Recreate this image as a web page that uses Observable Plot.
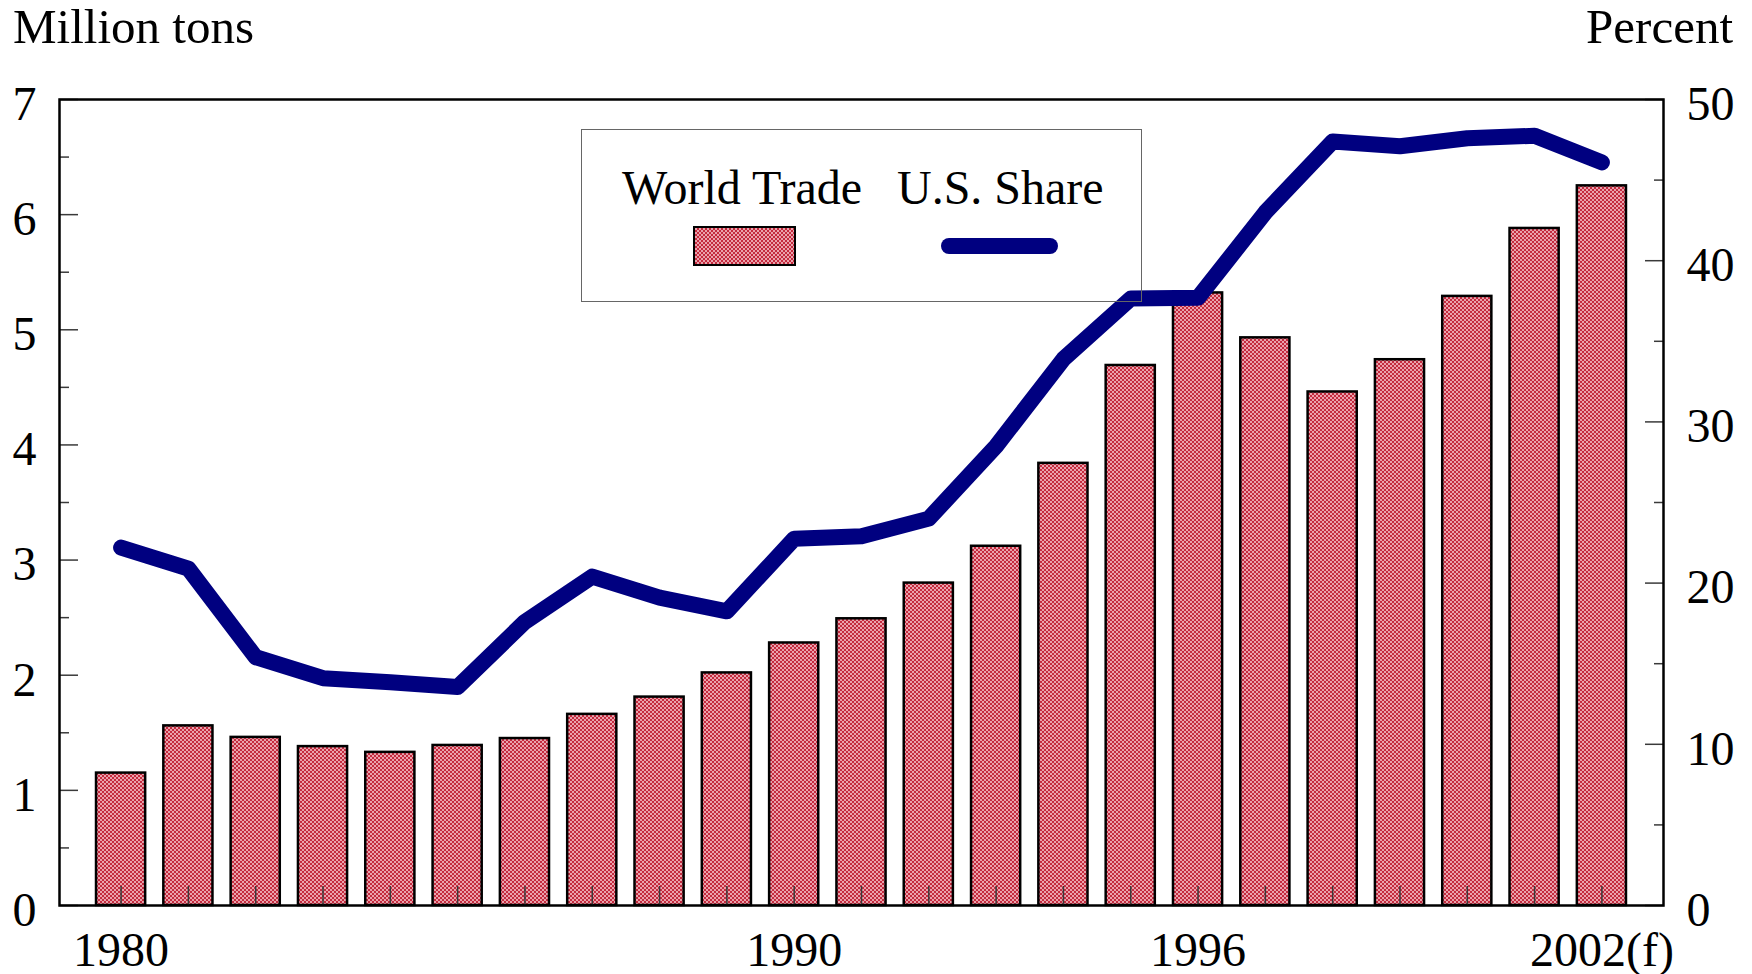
<!DOCTYPE html>
<html>
<head>
<meta charset="utf-8">
<script src="https://cdn.jsdelivr.net/npm/d3@7"></script>
<script src="https://cdn.jsdelivr.net/npm/@observablehq/plot@0.6"></script>
<style>
  body { margin: 0; background: #fff; font-family: "Liberation Serif", "Times New Roman", serif; }
  #wrap { position: relative; width: 1752px; height: 974px; background: #fff; }
  #header { position: relative; height: 55px; }
  .unit { position: absolute; top: 3px; font-size: 49px; line-height: 48px; color: #000; white-space: nowrap; }
  #legend { position: absolute; left: 581px; top: 129px; width: 561px; height: 173px; border: 1px solid #666; box-sizing: border-box; }
  .ltext { position: absolute; top: 34px; font-size: 48px; line-height: 48px; white-space: nowrap; }
  #swatchBar { position: absolute; left: 111px; top: 96px; width: 103px; height: 40px; box-sizing: border-box; border: 2.5px solid #000;
    background: repeating-conic-gradient(#c42a3e 0 25%, #eaa2ac 0 50%) 0 0 / 4px 4px; }
  #swatchLine { position: absolute; left: 359px; top: 108px; width: 117px; height: 16px; border-radius: 8px; background: #000080; }
</style>
</head>
<body>
<div id="wrap">
  <div id="header">
    <span class="unit" style="left:13px;">Million tons</span>
    <span class="unit" style="right:19px;">Percent</span>
  </div>
  <div id="chart"></div>
  <div id="legend">
    <span class="ltext" style="left:40px;">World Trade</span>
    <span class="ltext" style="left:315px;">U.S. Share</span>
    <div id="swatchBar"></div>
    <div id="swatchLine"></div>
  </div>
</div>
<script>
// ---- Data ----
const years = [1980, 1981, 1982, 1983, 1984, 1985, 1986, 1987, 1988, 1989, 1990, 1991,
               1992, 1993, 1994, 1995, 1996, 1997, 1998, 1999, 2000, 2001, 2002];
// World trade, million tons
const worldTrade = [1.15, 1.56, 1.46, 1.38, 1.33, 1.39, 1.45, 1.66, 1.81, 2.02, 2.28, 2.49,
                    2.80, 3.12, 3.84, 4.69, 5.32, 4.93, 4.46, 4.74, 5.29, 5.88, 6.25];
// U.S. share, percent
const usShare = [22.2, 20.9, 15.4, 14.1, 13.85, 13.55, 17.6, 20.4, 19.1, 18.25, 22.75, 22.9,
                 24.0, 28.5, 33.9, 37.65, 37.7, 43.0, 47.4, 47.1, 47.6, 47.75, 46.1];

const labeledYears = [1980, 1990, 1996, 2002];
const labeledYearText = ["1980", "1990", "1996", "2002(f)"];
const tonsMajor = [0, 1, 2, 3, 4, 5, 6, 7];
const tonsMinor = [0.5, 1.5, 2.5, 3.5, 4.5, 5.5, 6.5];
const pctMajor = [0, 10, 20, 30, 40, 50];
const pctMinor = [5, 15, 25, 35, 45];
const TONS_MAX = 7;
const PCT_MAX = 50;

// ---- Build ----
const k = TONS_MAX / PCT_MAX;
const toLeft = p => p * k;
const data = years.map((year, i) => ({year, trade: worldTrade[i], share: usShare[i]}));
const yearLabel = d => { const i = labeledYears.indexOf(d); return i >= 0 ? labeledYearText[i] : ""; };
const tickStroke = "#3a3a3a";

const chart = Plot.plot({
  width: 1752,
  height: 919,
  marginLeft: 59,
  marginRight: 89,
  marginTop: 44,
  marginBottom: 69,
  style: {fontFamily: "Liberation Serif, Times New Roman, serif", fontSize: "48px", color: "#000", background: "#fff", overflow: "visible"},
  x: {type: "band", domain: years, paddingInner: 0.27, paddingOuter: 0.55, round: false},
  y: {domain: [0, TONS_MAX]},
  marks: [
    Plot.barY(data, {x: "year", y: "trade", fill: "url(#checker)", stroke: "#000", strokeWidth: 2.5}),
    // bottom ticks (inward)
    Plot.axisX({anchor: "bottom", tickSize: -19, stroke: tickStroke, strokeWidth: 1.5, fill: "none", label: null}),
    Plot.axisX({anchor: "bottom", ticks: labeledYears, tickSize: 0, tickPadding: 26, tickFormat: yearLabel, label: null}),
    // left axis
    Plot.axisY({anchor: "left", ticks: tonsMajor, tickSize: -19, stroke: tickStroke, strokeWidth: 1.5, fill: "none", label: null}),
    Plot.axisY({anchor: "left", ticks: tonsMinor, tickSize: -10, stroke: tickStroke, strokeWidth: 1.5, fill: "none", label: null}),
    Plot.axisY({anchor: "left", ticks: tonsMajor, tickSize: 0, tickPadding: 23, dy: 5, tickFormat: d => String(d), label: null}),
    // right axis (percent)
    Plot.axisY({anchor: "right", ticks: pctMajor.map(toLeft), tickSize: -19, stroke: tickStroke, strokeWidth: 1.5, fill: "none", label: null}),
    Plot.axisY({anchor: "right", ticks: pctMinor.map(toLeft), tickSize: -10, stroke: tickStroke, strokeWidth: 1.5, fill: "none", label: null}),
    Plot.axisY({anchor: "right", ticks: pctMajor.map(toLeft), tickSize: 0, tickPadding: 23, dy: 5, tickFormat: d => String(Math.round(d / k)), label: null}),
    Plot.lineY(data, {x: "year", y: d => toLeft(d.share), stroke: "#000080", strokeWidth: 16, strokeLinecap: "round", strokeLinejoin: "round"}),
    Plot.frame({stroke: "#000", strokeWidth: 2.5})
  ]
});

// checker pattern for the bars
const svg = d3.select(chart);
const defs = svg.insert("defs", ":first-child");
const pat = defs.append("pattern").attr("id", "checker").attr("width", 4).attr("height", 4).attr("patternUnits", "userSpaceOnUse");
pat.append("rect").attr("width", 4).attr("height", 4).attr("fill", "#c42a3e");
pat.append("rect").attr("width", 2).attr("height", 2).attr("fill", "#eaa2ac");
pat.append("rect").attr("x", 2).attr("y", 2).attr("width", 2).attr("height", 2).attr("fill", "#eaa2ac");

document.getElementById("chart").appendChild(chart);
</script>
</body>
</html>
